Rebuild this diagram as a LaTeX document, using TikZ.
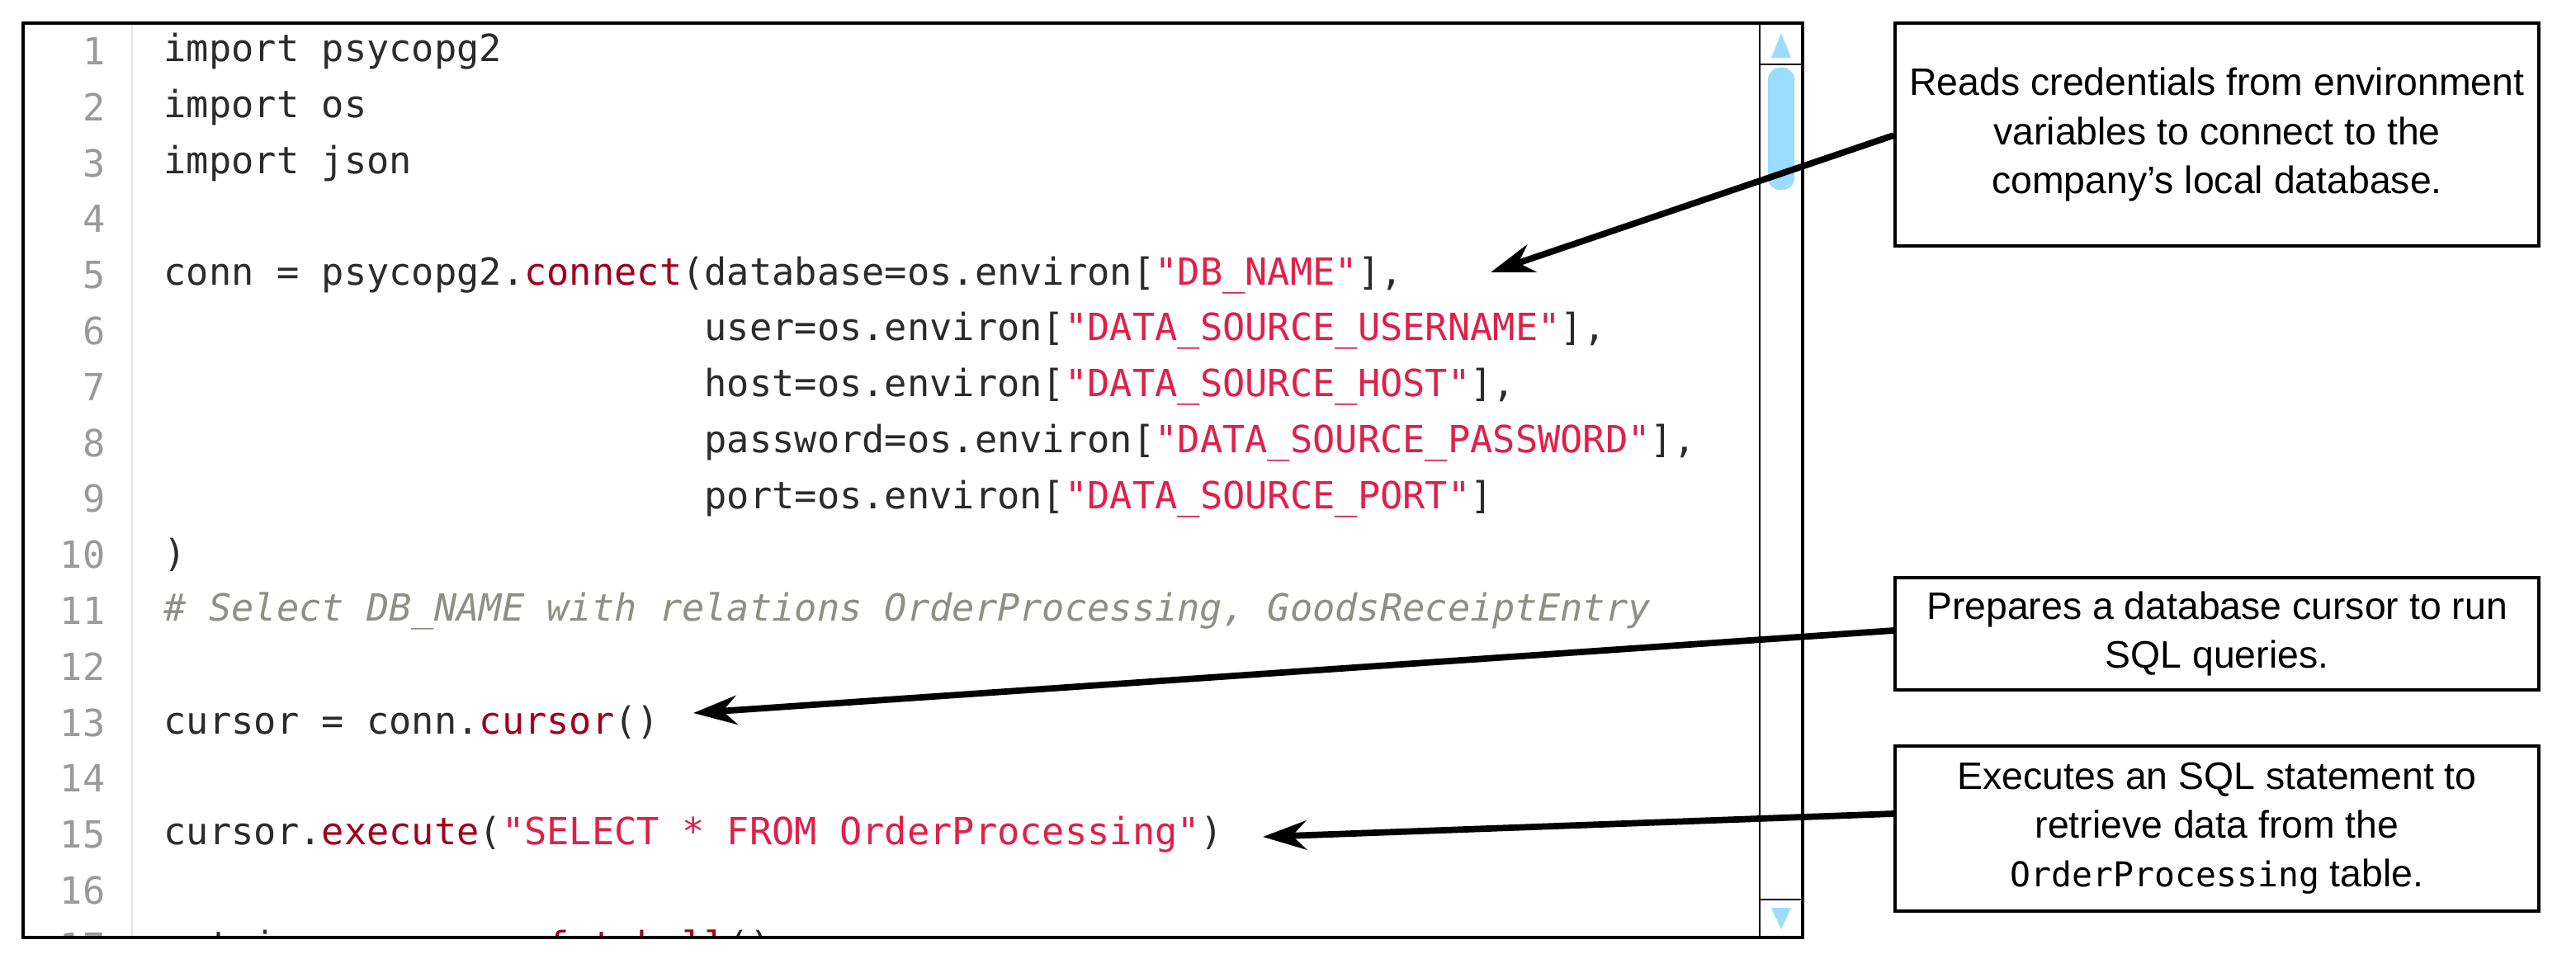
\documentclass[tikz,border=0pt]{standalone}
\usepackage{fontspec}
\setmainfont{Liberation Sans}
\newfontfamily\codefont{DejaVu Sans Mono}[Scale=1]
\usetikzlibrary{arrows.meta}
\definecolor{kw}{HTML}{2B2B2B}
\definecolor{fn}{HTML}{A0001C}
\definecolor{st}{HTML}{E0204A}
\definecolor{cm}{HTML}{8F8F86}
\definecolor{ln}{HTML}{9A9A9A}
\definecolor{sb}{HTML}{9CDCFE}
\newcommand{\F}[1]{\textcolor{fn}{#1}}
\newcommand{\Sq}[1]{\textcolor{st}{#1}}
\begin{document}
\begin{tikzpicture}[x=0.02cm,y=-0.02cm,
  code/.style={anchor=west,inner sep=0,font=\codefont\fontsize{12.9}{14}\selectfont,text=kw},
  lnum/.style={anchor=east,inner sep=0,font=\codefont\fontsize{12.9}{14}\selectfont,text=ln},
  note/.style={draw,line width=1pt,align=center,font=\fontsize{13.2}{16.8}\selectfont,inner sep=0},
  arr/.style={line width=2.2pt,-{Stealth[length=15pt,width=10pt]}}]
\useasboundingbox (0,0) rectangle (1560.5,577.5);
\begin{scope}
\clip (14,14) rectangle (1066,568);
\draw[line width=0.6pt,black!10] (80,14) -- (80,568);
\foreach \n in {1,...,17}{\node[lnum] (l\n) at (64,{31+(\n-1)*33.9}) {\n};}
\node[code] (c1) at (99,31) {import psycopg2};
\node[code] (c2) at (99,64.9) {import os};
\node[code] (c3) at (99,98.8) {import json};
\node[code] (c5) at (99,166.6) {conn = psycopg2.\F{connect}(database=os.environ[\Sq{"DB\_NAME"}],};
\node[code] (c6) at (99,200.5) {\phantom{conn = psycopg2.connect(}user=os.environ[\Sq{"DATA\_SOURCE\_USERNAME"}],};
\node[code] (c7) at (99,234.4) {\phantom{conn = psycopg2.connect(}host=os.environ[\Sq{"DATA\_SOURCE\_HOST"}],};
\node[code] (c8) at (99,268.3) {\phantom{conn = psycopg2.connect(}password=os.environ[\Sq{"DATA\_SOURCE\_PASSWORD"}],};
\node[code] (c9) at (99,302.2) {\phantom{conn = psycopg2.connect(}port=os.environ[\Sq{"DATA\_SOURCE\_PORT"}]};
\node[code] (c10) at (99,336.1) {)};
\node[code,text=cm] (c11) at (99,370) {\itshape\# Select DB\_NAME with relations OrderProcessing, GoodsReceiptEntry};
\node[code] (c13) at (99,437.8) {cursor = conn.\F{cursor}()};
\node[code] (c15) at (99,505.6) {cursor.\F{execute}(\Sq{"SELECT * FROM OrderProcessing"})};
\node[code] (c17) at (99,573.5) {entries = cursor.\F{fetchall}()};
\end{scope}
% scrollbar
\draw[line width=0.8pt] (1066,14) -- (1066,568);
\draw[line width=0.8pt] (1066,39) -- (1092,39);
\draw[line width=0.8pt] (1066,545) -- (1092,545);
\fill[sb] (1079,20) -- (1085,35) -- (1073,35) -- cycle;
\fill[sb] (1073,550) -- (1085,550) -- (1079,563) -- cycle;
\fill[sb,rounded corners=4pt] (1071,41) rectangle (1087,115);
\draw[line width=1pt] (14,14) rectangle (1092,568);
% notes
\node[note,minimum width=390*0.02cm,minimum height=135*0.02cm] (n1) at (1343,81.5) {Reads credentials from environment\\variables to connect to the\\company’s local database.};
\node[note,minimum width=390*0.02cm,minimum height=68*0.02cm] (n2) at (1343,384) {Prepares a database cursor to run\\SQL queries.};
\node[note,minimum width=390*0.02cm,minimum height=100*0.02cm] (n3) at (1343,502) {Executes an SQL statement to\\retrieve data from the\\{\codefont\fontsize{11.8}{14}\selectfont OrderProcessing} table.};
\coordinate (t1) at (903,165);
\coordinate (t2) at (420,432);
\coordinate (t3) at (765,507);
\draw[arr] (n1.west |- 0,82) -- (t1);
\draw[arr] (n2.west |- 0,382) -- (t2);
\draw[arr] (n3.west |- 0,493) -- (t3);
\end{tikzpicture}
\end{document}
